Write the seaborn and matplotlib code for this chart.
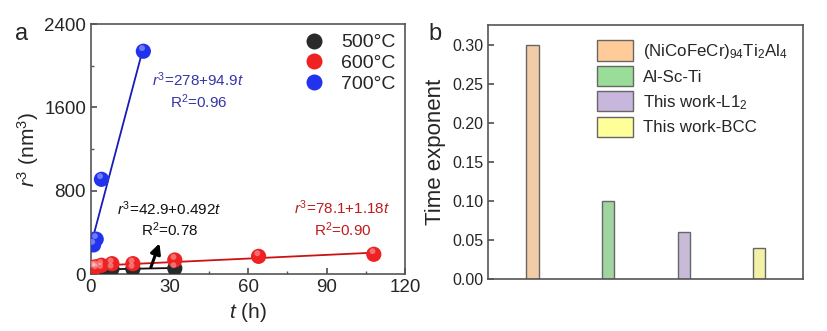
import numpy as np
import pandas as pd
import matplotlib
matplotlib.use("Agg")
import matplotlib.pyplot as plt
import seaborn as sns
from matplotlib.patches import Patch

# ---------------- data ----------------
t_500 = [2, 4, 8, 16, 32]
r3_500 = [45, 48, 50, 50, 55]
t_600 = [1, 2, 4, 8, 16, 32, 64, 108]
r3_600 = [65, 70, 85, 100, 100, 135, 170, 190]
t_700 = [1, 2, 4, 20]
r3_700 = [280, 335, 910, 2140]

temps = ["500°C", "600°C", "700°C"]
fit_intercepts = [42.9, 78.1, 278]
fit_slopes = [0.492, 1.18, 94.9]
fit_tstart = [4, 0, 1]
fit_tend = [32, 108, 20]
fit_eqs = [r"$\mathit{r}^3$=42.9+0.492$\mathit{t}$", r"$\mathit{r}^3$=78.1+1.18$\mathit{t}$", r"$\mathit{r}^3$=278+94.9$\mathit{t}$"]
fit_r2 = ["R$^2$=0.78", "R$^2$=0.90", "R$^2$=0.96"]

b_categories = [r"(NiCoFeCr)$_{94}$Ti$_2$Al$_4$", "Al-Sc-Ti", r"This work-L1$_2$", "This work-BCC"]
b_values = [0.30, 0.10, 0.06, 0.04]

# ---------------- style ----------------
sns.set_theme(style="ticks")
plt.rcParams["font.family"] = ["Liberation Sans", "DejaVu Sans"]
plt.rcParams["mathtext.fontset"] = "custom"
plt.rcParams["mathtext.rm"] = "Liberation Sans"
plt.rcParams["mathtext.it"] = "Liberation Sans:italic"
plt.rcParams["mathtext.default"] = "regular"
plt.rcParams["axes.edgecolor"] = "#555555"
plt.rcParams["axes.linewidth"] = 1.2

fig = plt.figure(figsize=(8.27, 3.31), dpi=100)
ax1 = fig.add_axes([0.110, 0.172, 0.380, 0.755])
ax2 = fig.add_axes([0.590, 0.157, 0.381, 0.767])

marker_colors = {"500°C": "#2a2a2a", "600°C": "#ee2222", "700°C": "#2233ee"}
line_colors = {"500°C": "#111111", "600°C": "#cc1111", "700°C": "#1a1ab8"}
text_colors = {"500°C": "#111111", "600°C": "#c01c1c", "700°C": "#3535a8"}

# fit lines
fit_rows = []
for temp, a, b, t0, t1 in zip(temps, fit_intercepts, fit_slopes, fit_tstart, fit_tend):
    for tt in (t0, t1):
        fit_rows.append({"t": tt, "r3": a + b * tt, "T": temp})
fit_df = pd.DataFrame(fit_rows)
sns.lineplot(data=fit_df, x="t", y="r3", hue="T", palette=line_colors, ax=ax1,
             legend=False, linewidth=1.3, zorder=2)

pts = pd.DataFrame({
    "t": t_500 + t_600 + t_700,
    "r3": r3_500 + r3_600 + r3_700,
    "T": ["500°C"] * len(t_500) + ["600°C"] * len(t_600) + ["700°C"] * len(t_700),
})
sns.scatterplot(data=pts, x="t", y="r3", hue="T", palette=marker_colors, ax=ax1,
                s=120, edgecolor="none", zorder=3, legend=True)
# highlight to mimic spheres
for temp in temps:
    sub = pts[pts["T"] == temp]
    ax1.scatter(sub["t"] - 0.5, sub["r3"] + 30, s=18, color="white", alpha=0.35,
                edgecolor="none", zorder=4)

ax1.legend(loc="upper right", frameon=False, fontsize=14, handlelength=1.0,
           handletextpad=0.9, labelspacing=0.15, borderaxespad=0.1, markerscale=1.05)

ax1.set_xlim(0, 120)
ax1.set_ylim(0, 2400)
ax1.set_xticks([0, 30, 60, 90, 120])
ax1.set_yticks([0, 800, 1600, 2400])
ax1.set_xticks([15, 45, 75, 105], minor=True)
ax1.set_yticks([400, 1200, 2000], minor=True)
ax1.tick_params(which="both", direction="in", labelsize=13.5, length=4, color="#555555")
ax1.tick_params(which="minor", length=2.5)
ax1.set_xlabel(r"$\mathit{t}$ (h)", fontsize=15, labelpad=4)
ax1.set_ylabel(r"$\mathit{r}^3$ (nm$^3$)", fontsize=15, labelpad=2)

# annotations
ax1.text(41, 1865, fit_eqs[2], color=text_colors["700°C"], fontsize=11, ha="center", va="center")
ax1.text(41, 1657, fit_r2[2], color=text_colors["700°C"], fontsize=11, ha="center", va="center")
ax1.text(30, 631, fit_eqs[0], color=text_colors["500°C"], fontsize=11, ha="center", va="center")
ax1.text(30, 423, fit_r2[0], color=text_colors["500°C"], fontsize=11, ha="center", va="center")
ax1.text(96, 641, fit_eqs[1], color=text_colors["600°C"], fontsize=11, ha="center", va="center")
ax1.text(96, 423, fit_r2[1], color=text_colors["600°C"], fontsize=11, ha="center", va="center")
ax1.annotate("", xy=(26.5, 320), xytext=(22.5, 38),
             arrowprops=dict(arrowstyle="-|>,head_length=0.5,head_width=0.25", color="black", lw=2.2),
             zorder=5)

fig.text(0.018, 0.880, "a", fontsize=17)
fig.text(0.518, 0.880, "b", fontsize=17)

# ---------------- panel b ----------------
bar_colors = ["#ffcc99", "#99dd99", "#c8b6dd", "#ffff99"]
bdf = pd.DataFrame({"cat": b_categories, "val": b_values})
sns.barplot(data=bdf, x="cat", y="val", hue="cat", palette=bar_colors, ax=ax2,
            width=0.16, edgecolor="#666666", linewidth=1.0, legend=False, dodge=False)
ax2.set_xlim(-0.59, 3.58)
ax2.set_ylim(0, 0.326)
ax2.set_xticks([])
ax2.set_xlabel("")
ax2.set_yticks([0, 0.05, 0.10, 0.15, 0.20, 0.25, 0.30])
ax2.set_yticklabels([f"{v:.2f}" for v in [0, 0.05, 0.10, 0.15, 0.20, 0.25, 0.30]])
ax2.tick_params(axis="y", direction="in", labelsize=11.5, length=4, color="#555555")
ax2.set_ylabel("Time exponent", fontsize=16, labelpad=4)

handles = [Patch(facecolor=c, edgecolor="#666666", linewidth=1.0) for c in bar_colors]
ax2.legend(handles, b_categories, loc="upper right", frameon=False, fontsize=12.2,
           handlelength=2.1, handleheight=1.45, labelspacing=0.3, handletextpad=0.6,
           borderaxespad=0.5)

fig.savefig("out.png", dpi=100)
